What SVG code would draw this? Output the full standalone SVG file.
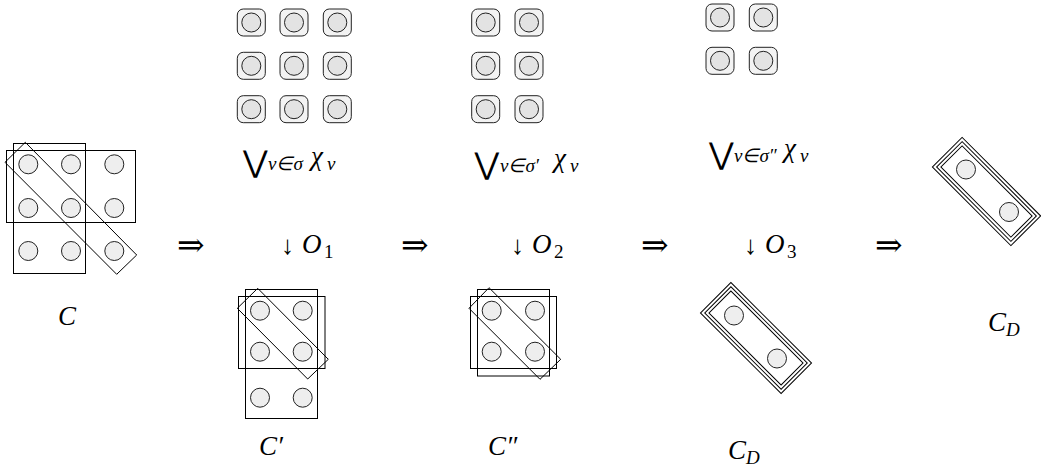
<svg xmlns="http://www.w3.org/2000/svg" width="1041" height="467" viewBox="0 0 1041 467">
<style>
.bx{fill:none;stroke:#000;stroke-width:1}
.c{fill:#eeeeee;stroke:#222;stroke-width:1}
.sq{fill:#f3f3f3;stroke:#222;stroke-width:1}
.ci{fill:#e3e3e3;stroke:#222;stroke-width:1}
</style>
<defs>
<g id="tile"><rect class="sq" x="0" y="0" width="28" height="27" rx="6"/><circle class="ci" cx="14" cy="13.5" r="9.5"/></g>
</defs>

<g id="C">
<rect class="bx" x="13.5" y="143.5" width="72" height="130"/>
<rect class="bx" x="6.5" y="150.5" width="129" height="72"/>
<polygon class="bx" points="5,162.3 25.3,142.3 136.7,255 116.7,274.3"/>
<circle class="c" cx="28.3" cy="164.3" r="9.5"/><circle class="c" cx="71" cy="164.3" r="9.5"/><circle class="c" cx="114.3" cy="164.3" r="9.5"/>
<circle class="c" cx="28.3" cy="208" r="9.5"/><circle class="c" cx="71" cy="208" r="9.5"/><circle class="c" cx="114.3" cy="208" r="9.5"/>
<circle class="c" cx="28.3" cy="251" r="9.5"/><circle class="c" cx="71" cy="251" r="9.5"/><circle class="c" cx="114.3" cy="251" r="9.5"/>
<text font-family="Liberation Serif" font-style="italic" font-size="27" x="58" y="325">C</text>
</g>

<g id="Cprime">
<rect class="bx" x="245.5" y="289.5" width="72" height="129"/>
<rect class="bx" x="238.5" y="296.5" width="86.5" height="72"/>
<polygon class="bx" points="237.3,308.3 257.7,288.3 328.3,359.3 307.7,379"/>
<circle class="c" cx="260" cy="310.7" r="9.5"/><circle class="c" cx="302.7" cy="310.7" r="9.5"/>
<circle class="c" cx="260" cy="351.7" r="9.5"/><circle class="c" cx="302.7" cy="351.7" r="9.5"/>
<circle class="c" cx="260" cy="397.7" r="9.5"/><circle class="c" cx="302.7" cy="397.7" r="9.5"/>
<text font-family="Liberation Serif" font-style="italic" font-size="27" x="259" y="455">C′</text>
</g>

<g id="Cdprime">
<rect class="bx" x="477.5" y="289.5" width="72" height="86.5"/>
<rect class="bx" x="470.5" y="296.5" width="86" height="72"/>
<polygon class="bx" points="469,308.3 489,287.7 560.7,359.3 540,379.3"/>
<circle class="c" cx="491.7" cy="310.7" r="9.5"/><circle class="c" cx="535" cy="310.7" r="9.5"/>
<circle class="c" cx="491.7" cy="351.7" r="9.5"/><circle class="c" cx="535" cy="351.7" r="9.5"/>
<text font-family="Liberation Serif" font-style="italic" font-size="27" x="488" y="455">C″</text>
</g>

<g id="CD1">
<g transform="translate(756 338) rotate(45)">
<rect class="bx" x="-57" y="-21.5" width="114" height="43"/>
<rect class="bx" x="-54" y="-18.5" width="108" height="37"/>
<rect class="bx" x="-51" y="-15.5" width="102" height="31"/>
</g>
<circle class="c" cx="734" cy="315.5" r="9.5"/><circle class="c" cx="777" cy="358.5" r="9.5"/>
<text font-family="Liberation Serif" font-style="italic" font-size="27" x="728" y="459">C</text><text font-family="Liberation Serif" font-style="italic" font-size="19" x="746" y="464">D</text>
</g>

<g id="CD2">
<g transform="translate(986.5 191.5) rotate(45)">
<rect class="bx" x="-55.5" y="-21" width="111" height="42"/>
<rect class="bx" x="-52.5" y="-18" width="105" height="36"/>
<rect class="bx" x="-49.5" y="-15" width="99" height="30"/>
</g>
<circle class="c" cx="966" cy="169.5" r="9.5"/><circle class="c" cx="1009" cy="212" r="9.5"/>
<text font-family="Liberation Serif" font-style="italic" font-size="27" x="988" y="331">C</text><text font-family="Liberation Serif" font-style="italic" font-size="19" x="1006" y="336">D</text>
</g>

<g id="S1">
<use href="#tile" x="237.3" y="9"/><use href="#tile" x="280" y="9"/><use href="#tile" x="323.3" y="9"/>
<use href="#tile" x="237.3" y="52.3"/><use href="#tile" x="280" y="52.3"/><use href="#tile" x="323.3" y="52.3"/>
<use href="#tile" x="237.3" y="95.7"/><use href="#tile" x="280" y="95.7"/><use href="#tile" x="323.3" y="95.7"/>
<text font-family="DejaVu Sans" font-size="30" x="243" y="172">⋁</text>
<text font-family="Liberation Serif" font-style="italic" font-size="19" x="268" y="170">v∈σ</text>
<text font-family="Liberation Serif" font-style="italic" font-size="27" x="311" y="165">χ</text><text font-family="Liberation Serif" font-style="italic" font-size="19" x="327" y="170">v</text>
</g>

<g id="S2">
<use href="#tile" x="471.7" y="9"/><use href="#tile" x="515" y="9"/>
<use href="#tile" x="471.7" y="52.3"/><use href="#tile" x="515" y="52.3"/>
<use href="#tile" x="471.7" y="95.7"/><use href="#tile" x="515" y="95.7"/>
<text font-family="DejaVu Sans" font-size="30" x="474.5" y="173.5">⋁</text>
<text font-family="Liberation Serif" font-style="italic" font-size="19" x="500" y="171.5">v∈σ′</text>
<text font-family="Liberation Serif" font-style="italic" font-size="27" x="554" y="166.5">χ</text><text font-family="Liberation Serif" font-style="italic" font-size="19" x="570" y="171.5">v</text>
</g>

<g id="S3">
<use href="#tile" x="706" y="4"/><use href="#tile" x="749.3" y="4"/>
<use href="#tile" x="706" y="47.3"/><use href="#tile" x="749.3" y="47.3"/>
<text font-family="DejaVu Sans" font-size="30" x="709" y="164">⋁</text>
<text font-family="Liberation Serif" font-style="italic" font-size="19" x="734" y="162">v∈σ″</text>
<text font-family="Liberation Serif" font-style="italic" font-size="27" x="784" y="157">χ</text><text font-family="Liberation Serif" font-style="italic" font-size="19" x="800" y="162">v</text>
</g>

<g id="connectors">
<text font-family="DejaVu Serif" font-size="33" x="177" y="256">⇒</text>
<text font-family="DejaVu Serif" font-size="33" x="401" y="256">⇒</text>
<text font-family="DejaVu Serif" font-size="33" x="641" y="256">⇒</text>
<text font-family="DejaVu Serif" font-size="33" x="875" y="256">⇒</text>
<text font-family="Liberation Serif" font-size="26" x="281" y="254">↓</text><text font-family="Liberation Serif" font-style="italic" font-size="27" x="302" y="253">O</text><text font-family="Liberation Serif" font-size="19" x="324" y="258">1</text>
<text font-family="Liberation Serif" font-size="26" x="511" y="254">↓</text><text font-family="Liberation Serif" font-style="italic" font-size="27" x="532" y="253">O</text><text font-family="Liberation Serif" font-size="19" x="554" y="258">2</text>
<text font-family="Liberation Serif" font-size="26" x="744" y="254">↓</text><text font-family="Liberation Serif" font-style="italic" font-size="27" x="765" y="253">O</text><text font-family="Liberation Serif" font-size="19" x="787" y="258">3</text>
</g>
</svg>
